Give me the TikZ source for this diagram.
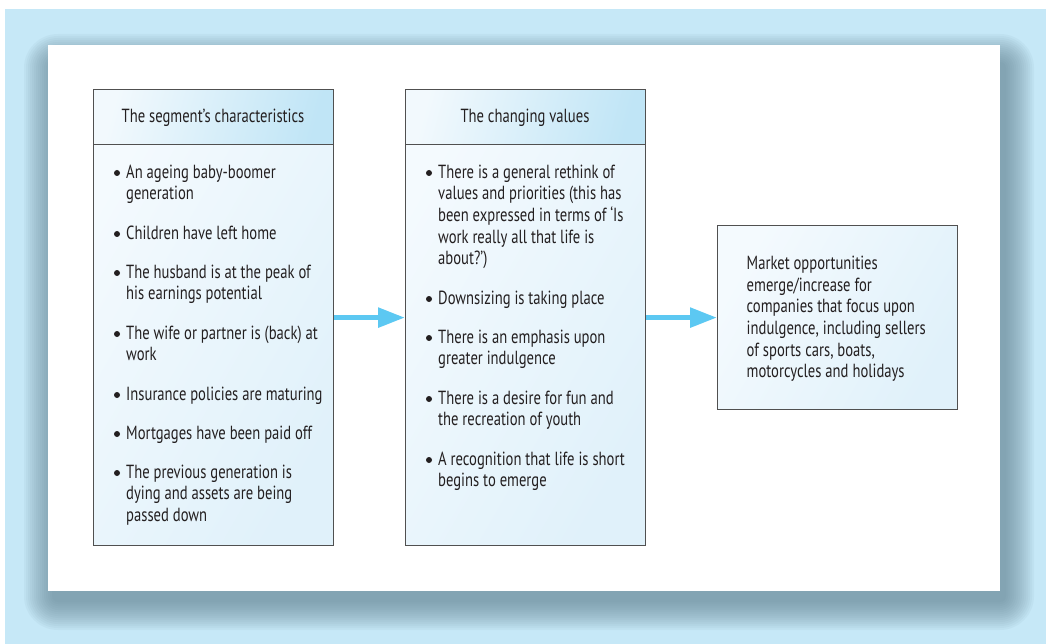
\documentclass[tikz,border=0pt]{standalone}
\usepackage{fontspec}
\setmainfont{PT Sans}[FakeStretch=0.77]
\usetikzlibrary{arrows.meta}
\definecolor{bgblue}{RGB}{198,232,247}
\definecolor{shadowc}{RGB}{95,125,140}
\definecolor{flowc}{RGB}{92,200,242}
\definecolor{edgec}{RGB}{80,80,80}
\definecolor{hdA}{RGB}{242,249,253}
\definecolor{hdB}{RGB}{192,229,246}
\definecolor{bdA}{RGB}{244,250,254}
\definecolor{bdB}{RGB}{224,241,250}
\definecolor{txt}{RGB}{35,31,32}
\begin{document}
\begin{tikzpicture}[x=1pt,y=-1pt,
  txtfont/.style={font=\fontsize{19}{21.7}\selectfont, text=txt},
  panel/.style={draw=edgec, line width=1.2pt, left color=bdA, right color=bdB, shading angle=60, inner sep=0pt, anchor=north west},
  headbox/.style={draw=edgec, line width=1.2pt, left color=hdA, right color=hdB, shading angle=75, inner sep=0pt, anchor=north west, minimum width=240pt, minimum height=55pt},
  headtext/.style={txtfont, anchor=base, inner sep=0pt},
  itemtext/.style={txtfont, anchor=north west, align=left, inner sep=0pt},
  bul/.style={fill=txt},
  flow/.style={draw=flowc, line width=5.5pt, -{Triangle[length=27pt,width=19pt]}}
]
\useasboundingbox (0,0) rectangle (1046,644);
\fill[white] (0,0) rectangle (1046,644);
\fill[bgblue] (5,9) rectangle (1046,644);
% soft shadow
\foreach \k in {28,26,...,0} {
  \fill[shadowc, opacity=0.06, rounded corners=\k pt+6pt] (52-\k,62-\k) rectangle (1006+\k,602+\k);
}
\fill[white] (48,45) rectangle (1000,591);

% boxes
\node[panel, minimum width=240pt, minimum height=456pt] (b1) at (93,89) {};
\node[headbox] (h1) at (93,89) {};
\node[panel, minimum width=240pt, minimum height=456pt] (b2) at (405,89) {};
\node[headbox] (h2) at (405,89) {};
\node[panel, minimum width=240pt, minimum height=184pt] (b3) at (717,225) {};

% headers
\node[headtext] (t1) at (213,123) {The segment’s characteristics};
\node[headtext] (t2) at (525,123) {The changing values};

% box 1 items
\fill[bul] (117,173) circle (3pt);
\node[itemtext] (i11) at (126,162.8) {\strut An ageing baby-boomer\\generation};
\fill[bul] (117,234) circle (3pt);
\node[itemtext] (i12) at (126,223.8) {\strut Children have left home};
\fill[bul] (117,273) circle (3pt);
\node[itemtext] (i13) at (126,262.8) {\strut The husband is at the peak of\\his earnings potential};
\fill[bul] (117,334) circle (3pt);
\node[itemtext] (i14) at (126,323.8) {\strut The wife or partner is (back) at\\work};
\fill[bul] (117,395) circle (3pt);
\node[itemtext] (i15) at (126,384.8) {\strut Insurance policies are maturing};
\fill[bul] (117,434) circle (3pt);
\node[itemtext] (i16) at (126,423.8) {\strut Mortgages have been paid off};
\fill[bul] (117,473) circle (3pt);
\node[itemtext] (i17) at (126,462.8) {\strut The previous generation is\\dying and assets are being\\passed down};

% box 2 items
\fill[bul] (429,173) circle (3pt);
\node[itemtext] (i21) at (438,162.8) {\strut There is a general rethink of\\values and priorities (this has\\been expressed in terms of ‘Is\\work really all that life is\\about?’)};
\fill[bul] (429,299) circle (3pt);
\node[itemtext] (i22) at (438,288.8) {\strut Downsizing is taking place};
\fill[bul] (429,338) circle (3pt);
\node[itemtext] (i23) at (438,327.8) {\strut There is an emphasis upon\\greater indulgence};
\fill[bul] (429,399) circle (3pt);
\node[itemtext] (i24) at (438,388.8) {\strut There is a desire for fun and\\the recreation of youth};
\fill[bul] (429,460) circle (3pt);
\node[itemtext] (i25) at (438,449.8) {\strut A recognition that life is short\\begins to emerge};

% box 3 text
\node[itemtext] (t3) at (746.5,254.1) {\strut Market opportunities\\emerge/increase for\\companies that focus upon\\indulgence, including sellers\\of sports cars, boats,\\motorcycles and holidays};

% connectors
\draw[flow] (b1.east) -- (b2.west);
\draw[flow] (b2.east) -- (b3.west);
\end{tikzpicture}
\end{document}
